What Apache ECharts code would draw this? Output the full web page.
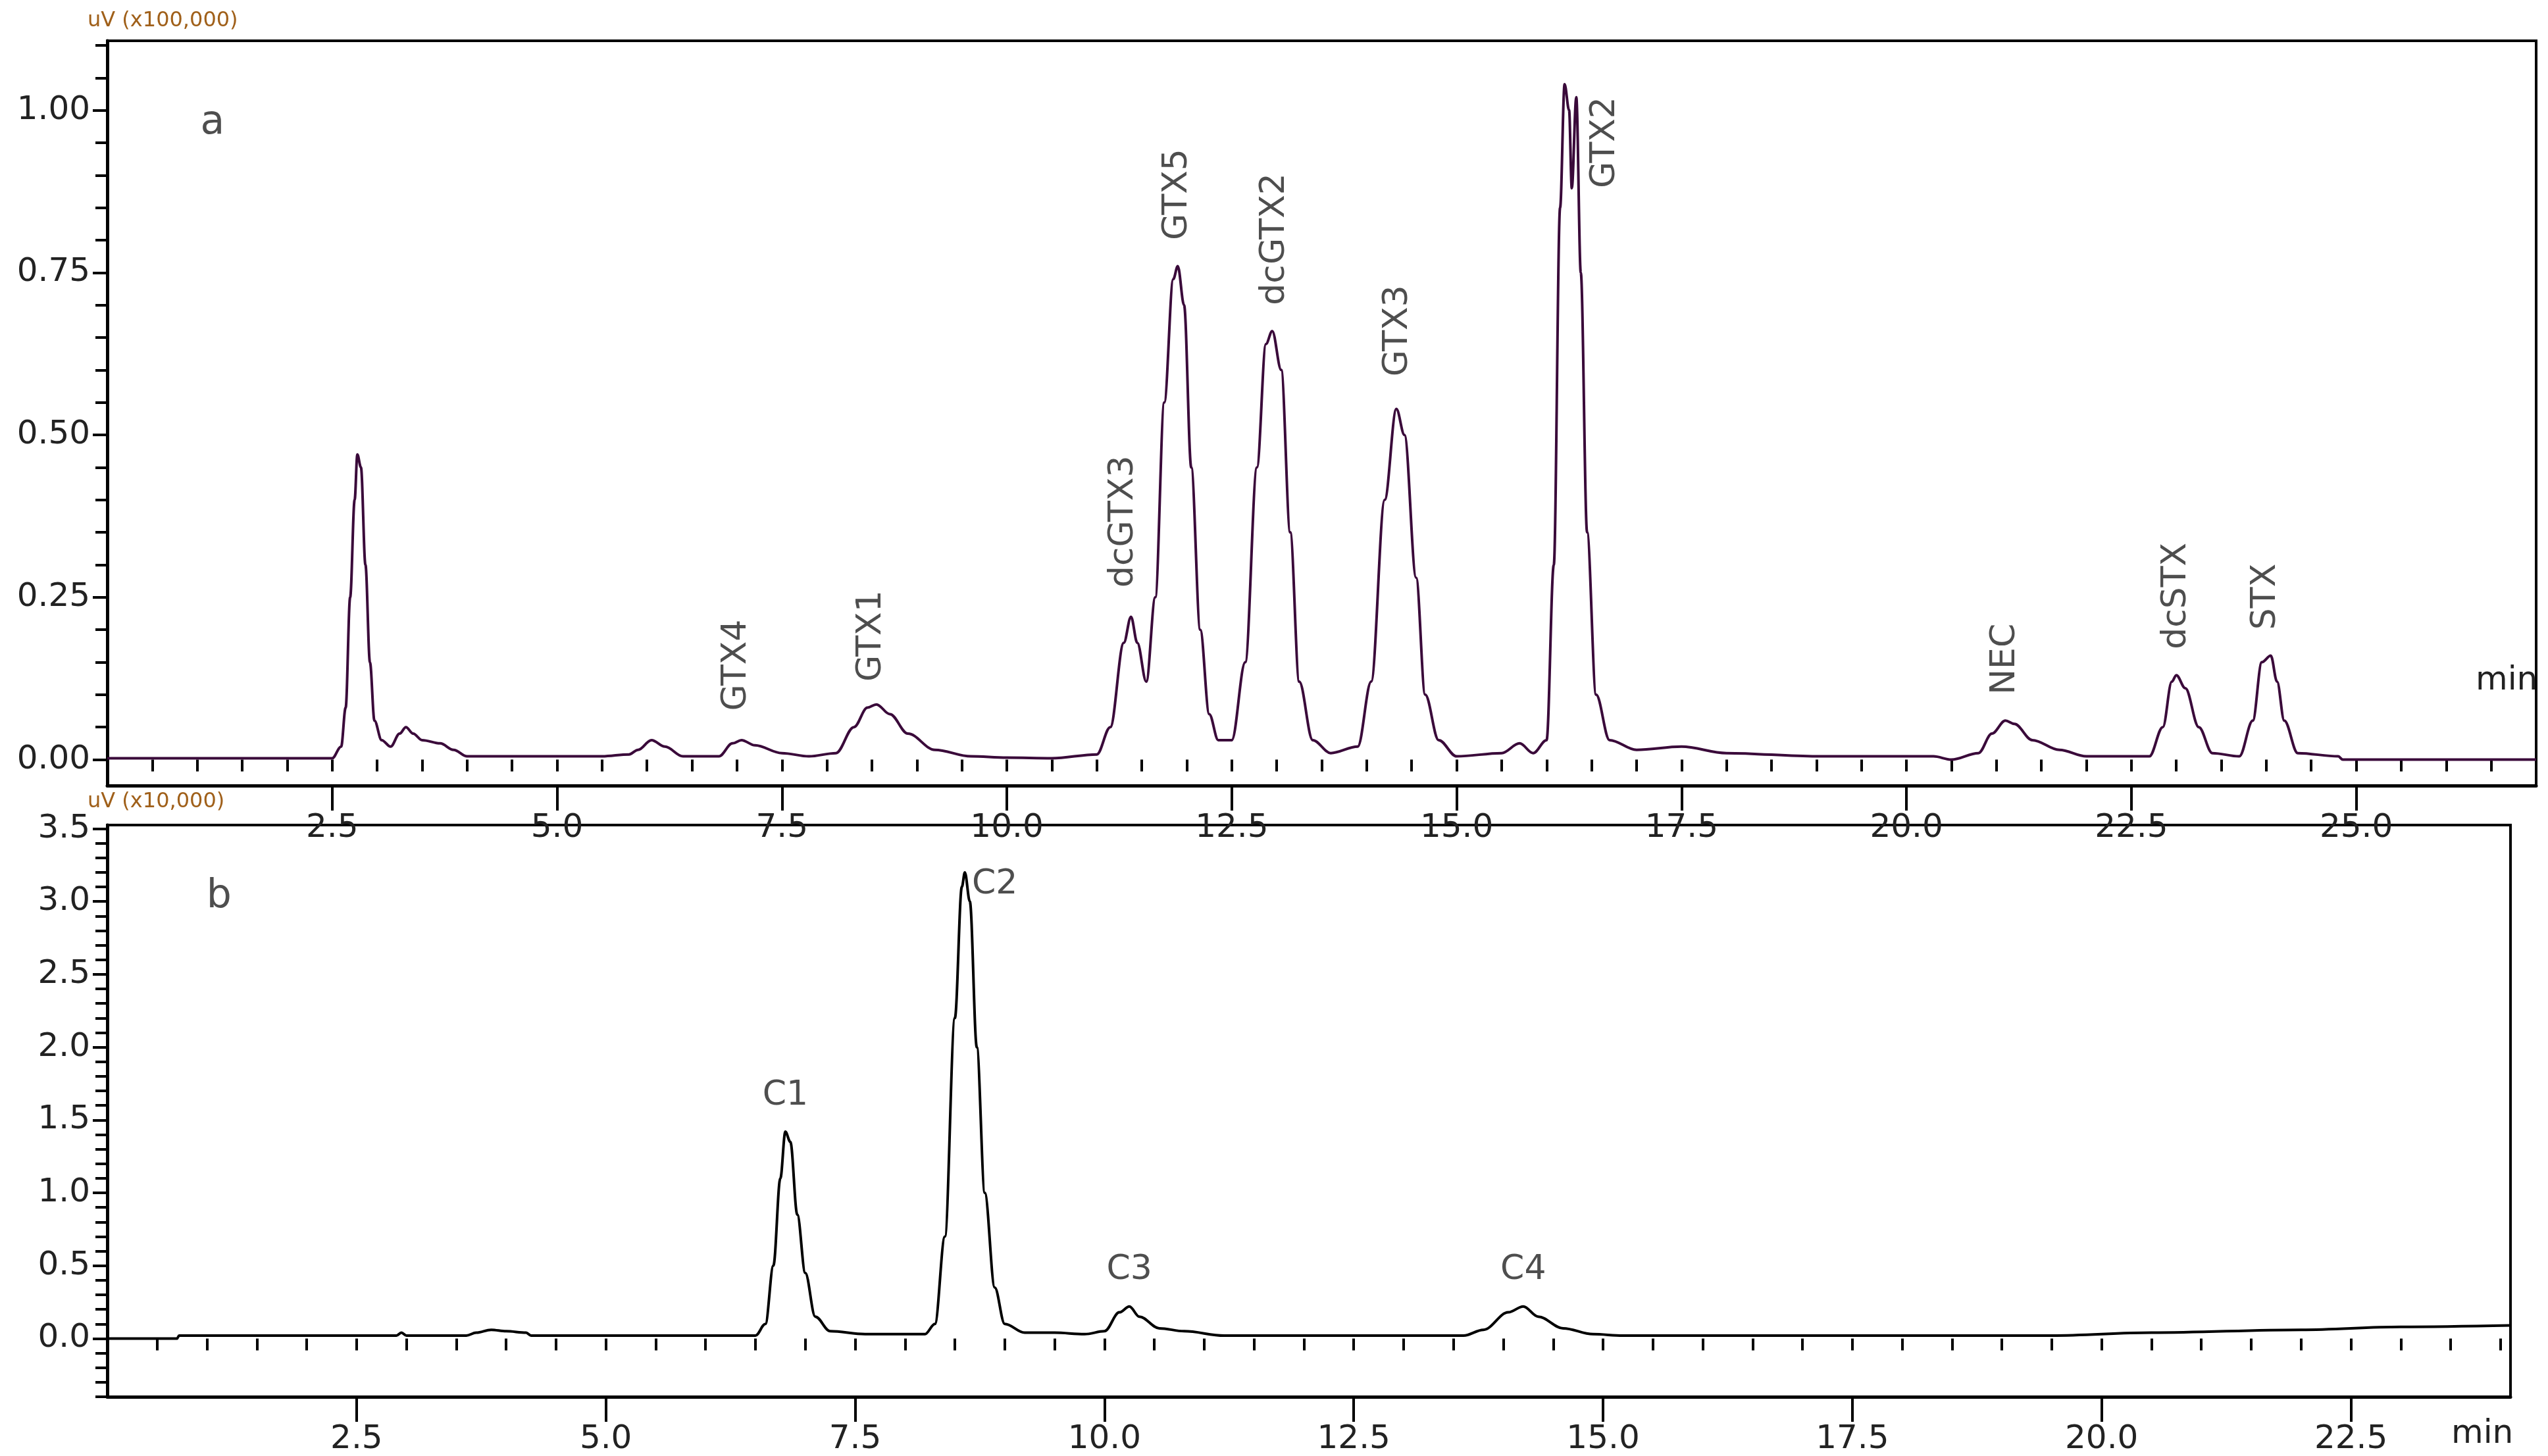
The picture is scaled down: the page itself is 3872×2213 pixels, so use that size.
<!DOCTYPE html>
<html><head><meta charset="utf-8">
<script src="https://cdn.jsdelivr.net/npm/echarts@6/dist/echarts.min.js"></script>
<style>html,body{margin:0;padding:0;background:#fff}#c{width:3872px;height:2213px}</style>
</head><body><div id="c"></div>
<script>
const traceA = [[0,0.002],[2.5,0.002],[2.6,0.02],[2.65,0.08],[2.7,0.25],[2.75,0.40],[2.78,0.47],[2.82,0.45],[2.87,0.30],[2.92,0.15],[2.97,0.06],[3.05,0.03],[3.15,0.02],[3.25,0.04],[3.32,0.05],[3.4,0.04],[3.5,0.03],[3.7,0.025],[3.85,0.015],[4.0,0.005],[5.5,0.005],[5.8,0.008],[5.9,0.015],[6.05,0.03],[6.2,0.02],[6.4,0.005],[6.8,0.005],[6.95,0.025],[7.05,0.03],[7.2,0.022],[7.5,0.01],[7.8,0.005],[8.1,0.01],[8.3,0.05],[8.45,0.08],[8.55,0.085],[8.7,0.07],[8.9,0.04],[9.2,0.015],[9.6,0.005],[10.0,0.003],[10.5,0.002],[11.0,0.008],[11.15,0.05],[11.3,0.18],[11.38,0.22],[11.45,0.18],[11.55,0.12],[11.65,0.25],[11.75,0.55],[11.85,0.74],[11.9,0.76],[11.97,0.70],[12.05,0.45],[12.15,0.20],[12.25,0.07],[12.35,0.03],[12.5,0.03],[12.65,0.15],[12.78,0.45],[12.88,0.64],[12.95,0.66],[13.05,0.60],[13.15,0.35],[13.25,0.12],[13.4,0.03],[13.6,0.01],[13.9,0.02],[14.05,0.12],[14.2,0.40],[14.33,0.54],[14.42,0.50],[14.55,0.28],[14.65,0.10],[14.8,0.03],[15.0,0.005],[15.5,0.01],[15.7,0.025],[15.85,0.01],[16.0,0.03],[16.08,0.3],[16.15,0.85],[16.2,1.04],[16.25,1.0],[16.28,0.88],[16.33,1.02],[16.38,0.75],[16.45,0.35],[16.55,0.10],[16.7,0.03],[17.0,0.015],[17.5,0.02],[18.0,0.01],[19.0,0.005],[20.3,0.005],[20.5,0.0],[20.8,0.01],[20.95,0.04],[21.1,0.06],[21.2,0.055],[21.4,0.03],[21.7,0.015],[22.0,0.005],[22.7,0.005],[22.85,0.05],[22.95,0.12],[23.0,0.13],[23.1,0.11],[23.25,0.05],[23.4,0.01],[23.7,0.005],[23.85,0.06],[23.95,0.15],[24.05,0.16],[24.12,0.12],[24.2,0.06],[24.35,0.01],[24.8,0.005],[24.85,0.0],[27,0.0]];
const traceB = [[0,0.0],[0.7,0.0],[0.72,0.02],[2.9,0.02],[2.95,0.04],[3.0,0.02],[3.6,0.02],[3.7,0.04],[3.85,0.06],[4.0,0.05],[4.2,0.04],[4.25,0.02],[6.5,0.02],[6.6,0.1],[6.68,0.5],[6.75,1.1],[6.8,1.42],[6.85,1.35],[6.92,0.85],[7.0,0.45],[7.1,0.15],[7.25,0.05],[7.6,0.03],[8.2,0.03],[8.3,0.1],[8.4,0.7],[8.5,2.2],[8.57,3.1],[8.6,3.2],[8.65,3.0],[8.72,2.0],[8.8,1.0],[8.9,0.35],[9.0,0.1],[9.2,0.04],[9.5,0.04],[9.8,0.03],[10.0,0.05],[10.15,0.18],[10.25,0.22],[10.35,0.15],[10.55,0.07],[10.8,0.05],[11.2,0.02],[13.6,0.02],[13.8,0.06],[14.05,0.18],[14.2,0.22],[14.35,0.15],[14.6,0.07],[14.9,0.03],[15.2,0.02],[19.5,0.02],[20.5,0.04],[22.0,0.06],[23.0,0.08],[24.1,0.09]];
const labelsA = [["GTX4",7.0,0.075],["GTX1",8.5,0.12],["dcGTX3",11.3,0.265],["GTX5",11.9,0.8],["dcGTX2",12.98,0.7],["GTX3",14.35,0.59],["GTX2",16.65,0.88],["NEC",21.1,0.1],["dcSTX",23.0,0.17],["STX",24.0,0.2]];
const labelsB = [["C1",6.8,1.55],["C2",8.9,3.0],["C3",10.25,0.35],["C4",14.2,0.35]];
const panelA = ["a",1.17,0.98];
const panelB = ["b",1.12,3.03];
const xTicksA = [2.5,5.0,7.5,10.0,12.5,15.0,17.5,20.0,22.5,25.0];
const xTicksB = [2.5,5.0,7.5,10.0,12.5,15.0,17.5,20.0,22.5];
const yTicksA = [0,0.25,0.5,0.75,1.0];
const yTicksB = [0,0.5,1.0,1.5,2.0,2.5,3.0,3.5];

function steps(a,b,s){const r=[];for(let i=Math.round(a/s);i*s<=b+1e-9;i++)r.push(+(i*s).toFixed(4));return r;}
const font = 'DejaVu Sans';
const lab = {fontFamily:font,fontSize:50,color:'#222'};
function mainX(g,max,ticks){return {type:'value',gridIndex:g,min:0,max:max,
  axisLine:{onZero:false,lineStyle:{color:'#000',width:5}},
  axisTick:{customValues:ticks,length:38,lineStyle:{color:'#000',width:4}},
  axisLabel:Object.assign({customValues:ticks,margin:40,formatter:v=>v.toFixed(1)},lab),splitLine:{show:false}};}
function minorX(g,max){return {type:'value',gridIndex:g,min:0,max:max,position:'bottom',
  axisLine:{show:false},axisLabel:{show:false},splitLine:{show:false},
  axisTick:{customValues:steps(0.5,max,0.5),length:18,lineStyle:{color:'#000',width:4}}};}
function mainY(g,min,max,ticks,dec,name){return {type:'value',gridIndex:g,min:min,max:max,
  axisLine:{onZero:false,lineStyle:{color:'#000',width:5}},
  axisTick:{customValues:ticks,length:22,lineStyle:{color:'#000',width:4}},
  axisLabel:Object.assign({customValues:ticks,margin:26,formatter:v=>v.toFixed(dec)},lab),splitLine:{show:false},
  name:name,nameLocation:'end',nameGap:14,nameTextStyle:{fontFamily:font,fontSize:32,color:'#a0601a',align:'left',padding:[0,0,0,-30]}};}
function minorY(g,min,max,s){return {type:'value',gridIndex:g,min:min,max:max,position:'left',
  axisLine:{show:false},axisLabel:{show:false},splitLine:{show:false},
  axisTick:{customValues:steps(min,max,s),length:18,lineStyle:{color:'#000',width:4}}};}

const option = {
  animation:false,
  backgroundColor:'#fff',
  grid:[
    {left:163,top:62,right:18,height:1132,show:true,borderColor:'#000',borderWidth:4},
    {left:163,top:1254,right:57,height:1084,show:true,borderColor:'#000',borderWidth:4}
  ],
  xAxis:[mainX(0,27,xTicksA),mainX(1,24.1,xTicksB),minorX(0,27),minorX(1,24.1)],
  yAxis:[mainY(0,-0.04,1.107,yTicksA,2,'uV (x100,000)'),mainY(1,-0.4,3.525,yTicksB,1,'uV (x10,000)'),
         minorY(0,-0.04,1.107,0.05),minorY(1,-0.4,3.525,0.1)],
  graphic:[
    {type:'text',left:3762,top:1010,style:{text:'min',font:'50px "DejaVu Sans"',fill:'#222'}},
    {type:'text',left:3725,top:2155,style:{text:'min',font:'50px "DejaVu Sans"',fill:'#222'}}
  ],
  series:[
    {type:'line',xAxisIndex:0,yAxisIndex:0,data:traceA,showSymbol:false,smooth:0.35,smoothMonotone:'x',lineStyle:{color:'#3a0a3a',width:4}},
    {type:'line',xAxisIndex:1,yAxisIndex:1,data:traceB,showSymbol:false,smooth:0.35,smoothMonotone:'x',lineStyle:{color:'#000',width:4}},
    {type:'scatter',xAxisIndex:0,yAxisIndex:0,symbolSize:0,data:labelsA.map(d=>({value:[d[1],d[2]],name:d[0]})),
      label:{show:true,formatter:p=>p.name,rotate:90,position:[0,0],align:'left',verticalAlign:'middle',fontFamily:font,fontSize:52,color:'#222'}},
    {type:'scatter',xAxisIndex:1,yAxisIndex:1,symbolSize:0,data:labelsB.map(d=>({value:[d[1],d[2]],name:d[0]})),
      label:{show:true,formatter:p=>p.name,position:[0,0],align:'center',verticalAlign:'bottom',fontFamily:font,fontSize:52,color:'#222'}},
    {type:'scatter',xAxisIndex:0,yAxisIndex:0,symbolSize:0,data:[{value:[panelA[1],panelA[2]],name:panelA[0]}],
      label:{show:true,formatter:p=>p.name,position:[0,0],align:'center',verticalAlign:'middle',fontFamily:font,fontSize:60,color:'#222'}},
    {type:'scatter',xAxisIndex:1,yAxisIndex:1,symbolSize:0,data:[{value:[panelB[1],panelB[2]],name:panelB[0]}],
      label:{show:true,formatter:p=>p.name,position:[0,0],align:'center',verticalAlign:'middle',fontFamily:font,fontSize:60,color:'#222'}}
  ]
};
const chart = echarts.init(document.getElementById('c'),null,{renderer:'canvas'});
chart.setOption(option);
</script></body></html>
